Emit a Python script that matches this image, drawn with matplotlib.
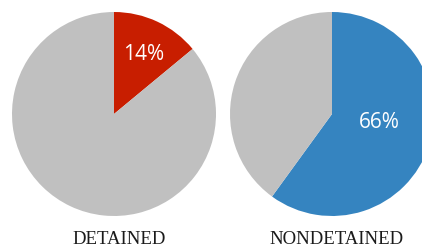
import matplotlib.pyplot as plt

# Shares as drawn in the picture (slice first, remainder second)
groups = ["DETAINED", "NONDETAINED"]
detained_share = [14, 86]
nondetained_share = [60, 40]
pct_labels = ["14%", "66%"]

slice_colors = ["#c81e00", "#3584c0"]
rest_color = "#c0c0c0"

W, H = 422, 246
fig = plt.figure(figsize=(W / 100, H / 100), dpi=100)
ax = fig.add_axes([0, 0, 1, 1])

radius = 102
centers = [(114, H - 114), (332, H - 114)]
label_offsets = [(30, 59), (47, -8)]

for share, color, center, name, pct, off in zip(
        [detained_share, nondetained_share], slice_colors, centers,
        groups, pct_labels, label_offsets):
    ax.pie(share, colors=[color, rest_color], startangle=90, counterclock=False,
           center=center, radius=radius, wedgeprops=dict(linewidth=0))
    ax.text(center[0] + off[0], center[1] + off[1], pct, color="white",
            fontsize=15, family="Open Sans", ha="center", va="center")
    ax.text(center[0] + 5, H - 239, name, color="#1a1a1a", fontsize=13.5,
            family="Liberation Serif", ha="center", va="center")

ax.set_xlim(0, W)
ax.set_ylim(0, H)
ax.set_aspect("auto")
ax.axis("off")

fig.savefig("out.png", dpi=100)
